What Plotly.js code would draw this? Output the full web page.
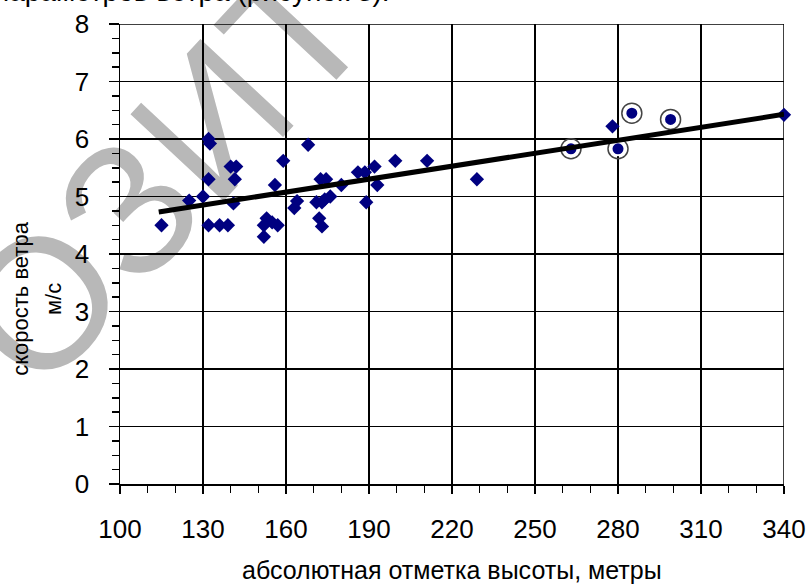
<!DOCTYPE html>
<html>
<head>
<meta charset="utf-8">
<script src="https://cdn.plot.ly/plotly-3.0.1.min.js"></script>
<style>html,body{margin:0;padding:0;background:#fff;}#chart{width:811px;height:587px;}</style>
</head>
<body>
<div id="chart"></div>
<script>
// Measured stations: altitude (m) and wind speed (m/s)
const altitude = [115, 125, 130, 132, 132.5, 132, 132, 136, 139, 140, 142, 141.5, 141, 153, 152, 155, 157, 152, 156, 159, 164, 163, 168, 171, 173, 176, 174, 172.5, 174.5, 172, 173, 180, 186, 188.5, 189, 192, 193, 199.5, 211, 229, 278, 340];
const windSpeed = [4.5, 4.93, 5.0, 6.0, 5.92, 5.3, 4.5, 4.5, 4.5, 5.52, 5.52, 5.3, 4.88, 4.62, 4.5, 4.55, 4.5, 4.3, 5.2, 5.62, 4.92, 4.8, 5.9, 4.9, 4.9, 5.0, 4.95, 5.3, 5.3, 4.62, 4.48, 5.2, 5.42, 5.42, 4.9, 5.52, 5.2, 5.62, 5.62, 5.3, 6.22, 6.42];
// Highlighted (circled) stations
const circledAltitude = [263, 280, 285, 299];
const circledSpeed = [5.83, 5.83, 6.45, 6.34];
// Trend line
const trendAltitude = [114, 340];
const trendSpeed = [4.73, 6.43];
const xTicks = [100, 130, 160, 190, 220, 250, 280, 310, 340];
const yTicks = [0, 1, 2, 3, 4, 5, 6, 7, 8];

const navy = '#000080';
const fam = '"Liberation Sans", Arial, sans-serif';
const tickFont = {family: fam, size: 26, color: '#000'};
const titleFont = {family: fam, size: 22, color: '#000'};

const traces = [
  {x: altitude, y: windSpeed, type: 'scatter', mode: 'markers',
   marker: {symbol: 'diamond', size: 11, color: navy}, cliponaxis: false, hoverinfo: 'x+y'},
  {x: circledAltitude, y: circledSpeed, type: 'scatter', mode: 'markers',
   marker: {symbol: 'circle-open', size: 20, color: '#444', line: {width: 1.5, color: '#444'}}, hoverinfo: 'skip'},
  {x: circledAltitude, y: circledSpeed, type: 'scatter', mode: 'markers',
   marker: {symbol: 'circle', size: 13, color: navy, line: {width: 2, color: '#fff'}}, hoverinfo: 'x+y'},
  {x: trendAltitude, y: trendSpeed, type: 'scatter', mode: 'lines',
   line: {color: '#000', width: 5}, hoverinfo: 'skip'}
];

const layout = {
  width: 811, height: 587,
  margin: {l: 120, r: 27, t: 24, b: 103},
  paper_bgcolor: '#fff', plot_bgcolor: 'rgba(0,0,0,0)',
  showlegend: false,
  font: tickFont,
  xaxis: {
    range: [100, 340], tickvals: xTicks, ticktext: xTicks.map(String),
    showgrid: true, gridcolor: '#000', gridwidth: 1.5,
    showline: true, linecolor: '#000', linewidth: 1.5, mirror: false,
    ticks: 'outside', ticklen: 8, tickwidth: 1.5, tickcolor: '#000',
    minor: {dtick: 10, tick0: 100, ticks: 'outside', ticklen: 7, tickwidth: 1.5, tickcolor: '#000', showgrid: false},
    tickfont: tickFont, ticklabelstandoff: 13, zeroline: false
  },
  yaxis: {
    range: [0, 8], tickvals: yTicks, ticktext: yTicks.map(String),
    showgrid: true, gridcolor: '#000', gridwidth: 1.5,
    showline: true, linecolor: '#000', linewidth: 1.5,
    ticks: 'outside', ticklen: 10, tickwidth: 1.5, tickcolor: '#000',
    minor: {dtick: 0.25, tick0: 0, ticks: 'outside', ticklen: 7, tickwidth: 1.5, tickcolor: '#000', showgrid: false},
    tickfont: tickFont, ticklabelstandoff: 14, zeroline: false
  },
  shapes: [
    {type: 'rect', xref: 'paper', yref: 'paper', x0: 0.04, x1: 0.05, y0: 0.70, y1: 0.71,
     line: {width: 0}, fillcolor: 'rgba(0,0,0,0)', layer: 'below',
     label: {text: 'ОЗИТ', textangle: -47, textposition: 'middle center',
             font: {family: fam, size: 185, color: '#b8b8b8'}}},
    {type: 'line', xref: 'x', yref: 'y', x0: 340, x1: 340, y0: 0, y1: 8, line: {color: '#000', width: 1.5}, layer: 'below'},
    {type: 'line', xref: 'x', yref: 'y', x0: 100, x1: 340, y0: 8, y1: 8, line: {color: '#000', width: 1.5}, layer: 'below'}
  ],
  annotations: [
    {text: 'скорость ветра', xref: 'paper', yref: 'paper', x: -0.151, y: 0.402, xanchor: 'center', yanchor: 'middle',
     textangle: -90, showarrow: false, font: titleFont},
    {text: 'м/с', xref: 'paper', yref: 'paper', x: -0.101, y: 0.402, xanchor: 'center', yanchor: 'middle',
     textangle: -90, showarrow: false, font: titleFont},
    {text: 'абсолютная отметка высоты, метры', xref: 'paper', yref: 'paper', x: 0.5, y: -0.188, xanchor: 'center', yanchor: 'middle',
     showarrow: false, font: {family: fam, size: 25, color: '#000'}},
    {text: 'параметров ветра (рисунок 3).', xref: 'paper', yref: 'paper', x: -0.193, y: 1.032, xanchor: 'left', yanchor: 'bottom',
     showarrow: false, font: {family: fam, size: 28, color: '#000'}}
  ]
};

Plotly.newPlot('chart', traces, layout, {displayModeBar: false, staticPlot: true});
</script>
</body>
</html>
